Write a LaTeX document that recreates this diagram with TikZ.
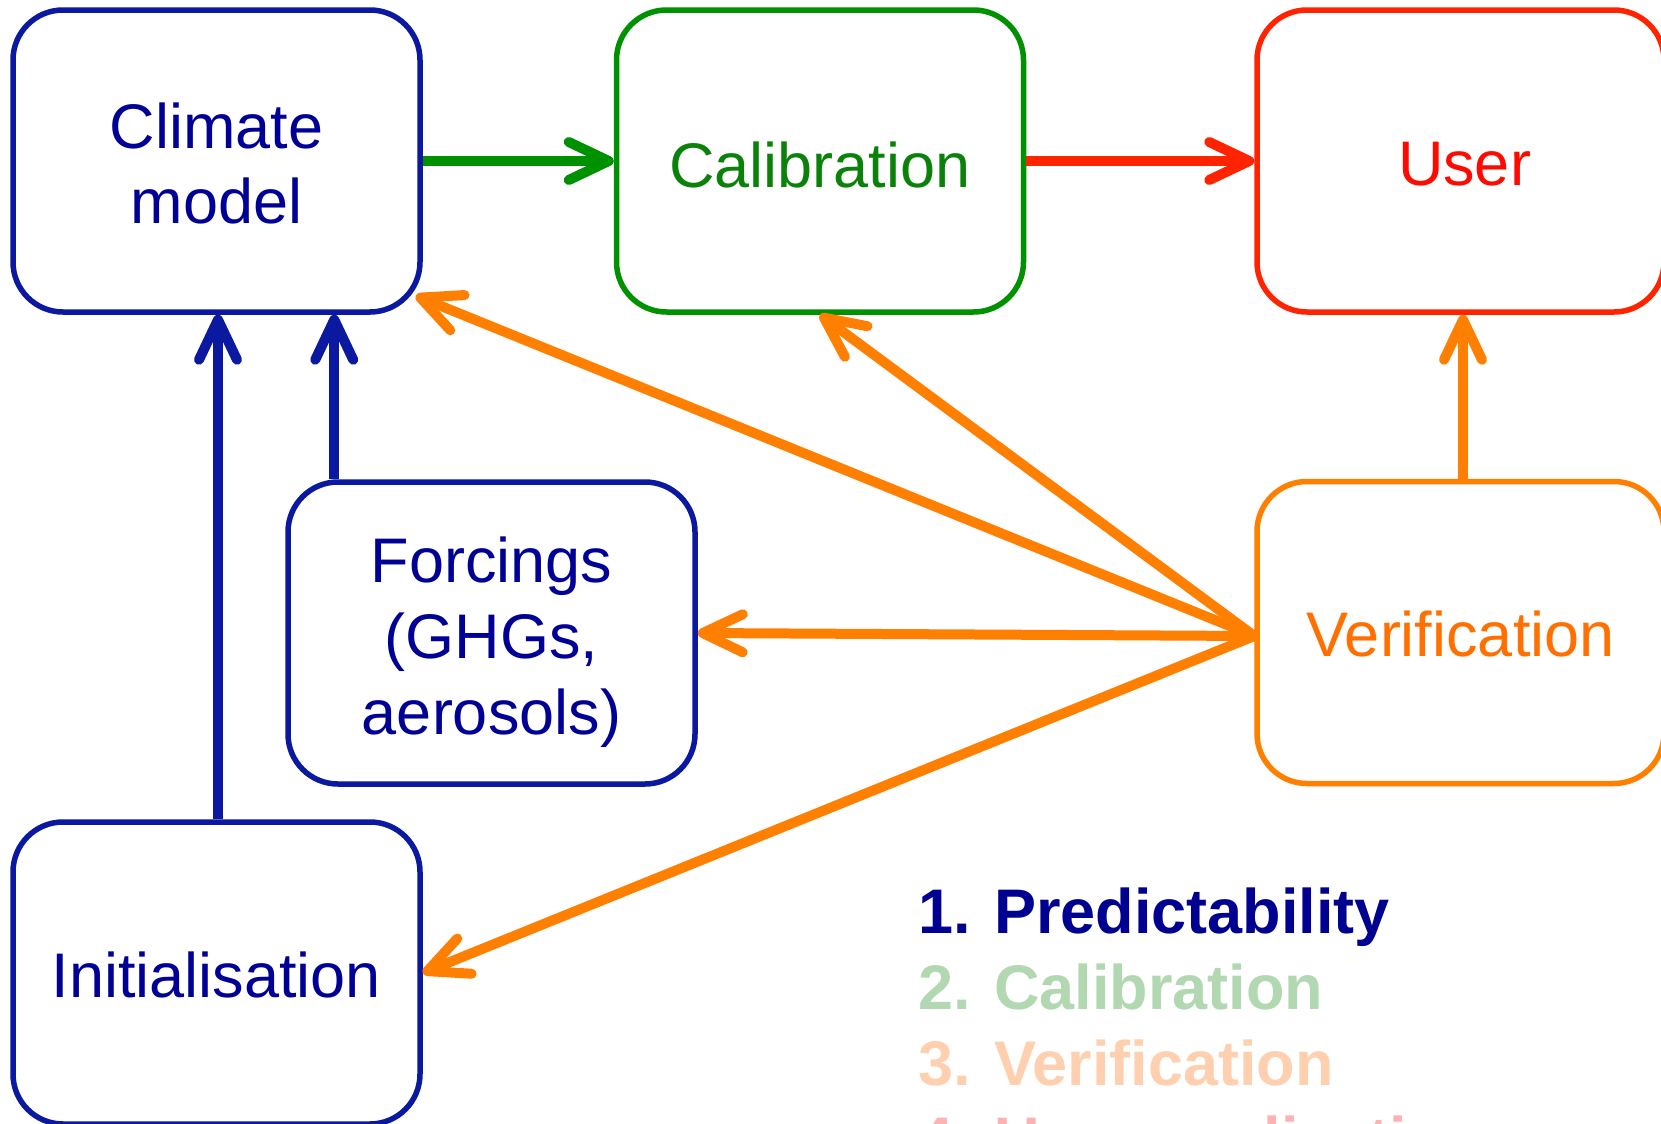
\documentclass[tikz,border=0pt]{standalone}
\usepackage{fontspec}
\setmainfont{Liberation Sans}
\usetikzlibrary{arrows.meta,calc}
\definecolor{cblue}{RGB}{10,25,160}
\definecolor{tblue}{RGB}{0,0,150}
\definecolor{cgreen}{RGB}{0,145,0}
\definecolor{tgreen}{RGB}{10,130,10}
\definecolor{cred}{RGB}{255,35,0}
\definecolor{tred}{RGB}{255,10,0}
\definecolor{corange}{RGB}{255,127,0}
\definecolor{torange}{RGB}{255,112,0}
\definecolor{lgreen}{RGB}{178,216,178}
\definecolor{lorange}{RGB}{255,208,176}
\definecolor{lred}{RGB}{255,178,178}
\definecolor{lblue}{RGB}{0,0,145}
\begin{document}
\begin{tikzpicture}[x=0.5pt,y=-0.5pt,
 box/.style={draw, line width=2.75pt, rounded corners=25pt, minimum width=203.5pt, minimum height=151pt, inner sep=0pt, fill=white},
 lbl/.style={inner sep=0pt, align=center, font=\fontsize{31.5pt}{37.5pt}\selectfont},
 arr/.style={line width=5pt, -{Straight Barb[length=20pt,width=19pt,round]}},
 leg/.style={anchor=base west, inner sep=0pt, font=\fontsize{31.5pt}{38pt}\selectfont\bfseries}]
\useasboundingbox (0,0) rectangle (1661,1124);
\fill[white] (0,0) rectangle (1661,1124);
\node[box, draw=cblue] (climate) at (216.5,161) {};
\node[box, draw=cgreen] (calib) at (820,161) {};
\node[box, draw=cred] (user) at (1460.5,161) {};
\node[box, draw=corange] (verif) at (1460.5,632.5) {};
\node[box, draw=cblue] (forc) at (491.5,633) {};
\node[box, draw=cblue] (init) at (216.5,973) {};
\node[lbl, text=tblue] (climate-t) at ([yshift=-1pt]climate.center) {Climate\\model};
\node[lbl, text=tgreen] (calib-t) at ([yshift=-1.75pt]calib.center) {Calibration};
\node[lbl, text=tred] (user-t) at ([xshift=2pt,yshift=-1.5pt]user.center) {User};
\node[lbl, text=torange] (verif-t) at ([yshift=-0.5pt]verif.center) {Verification};
\node[lbl, text=tblue, font=\fontsize{31.5pt}{38pt}\selectfont] (forc-t) at ([yshift=-4.5pt]forc.center) {Forcings\\(GHGs,\\aerosols)};
\node[lbl, text=tblue] (init-t) at ([yshift=-1pt]init.center) {Initialisation};
\draw[arr, cgreen] (climate.east) -- (calib.west);
\draw[arr, cred] (calib.east) -- (user.west);
\draw[arr, corange] ([xshift=1.25pt]verif.north) -- ([xshift=1.25pt]user.south);
\draw[arr, cblue] ([xshift=0.75pt]init.north) -- ([xshift=0.75pt]climate.south);
\draw[arr, cblue] ([xshift=24.5pt]forc.north west) -- ([xshift=162pt]climate.south west);
\coordinate (src) at ([yshift=-1.75pt]verif.west);
\draw[arr, corange] (src) -- ([xshift=-3.5pt,yshift=9.5pt]climate.south east);
\draw[arr, corange] (src) -- (calib.south);
\draw[arr, corange] (src) -- (forc.east);
\draw[arr, corange] (src) -- (init.east);
\node[leg, text=lblue] (l1) at (918,933) {1. Predictability};
\node[leg, text=lgreen] (l2) at (918,1009) {2. Calibration};
\node[leg, text=lorange] (l3) at (918,1085) {3. Verification};
\node[leg, text=lred] (l4) at (918,1161) {4. User application};
\end{tikzpicture}
\end{document}
